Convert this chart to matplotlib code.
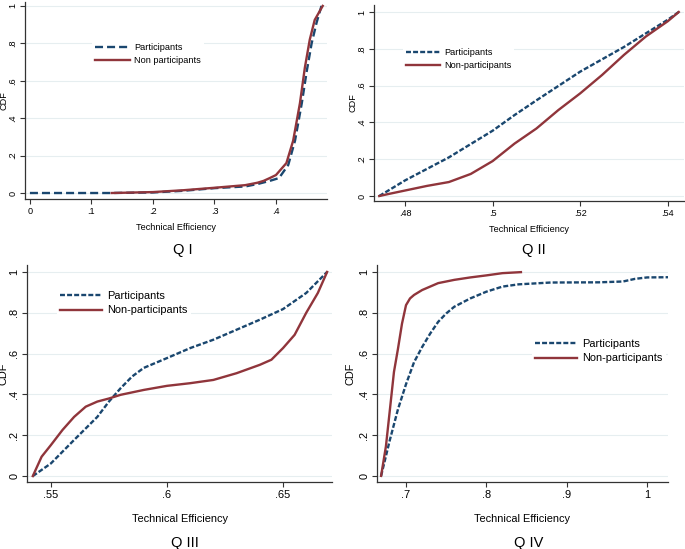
import matplotlib
matplotlib.use("Agg")
import matplotlib.pyplot as plt

plt.rcParams['font.family'] = ['Liberation Sans', 'DejaVu Sans']

W, H = 685, 549
BLUE = "#1a476f"
RED = "#90353b"
GRID = "#e6eef0"

# ---- Q I ----
q1_part_x = [0.0, 0.13, 0.20, 0.25, 0.30, 0.35, 0.37, 0.39, 0.40, 0.405, 0.42, 0.431, 0.442, 0.45, 0.458, 0.466, 0.474]
q1_part_y = [0.0, 0.0, 0.003, 0.012, 0.026, 0.035, 0.048, 0.065, 0.075, 0.08, 0.15, 0.28, 0.48, 0.65, 0.80, 0.91, 1.0]
q1_non_x = [0.133, 0.20, 0.25, 0.30, 0.35, 0.37, 0.38, 0.39, 0.40, 0.417, 0.428, 0.439, 0.447, 0.455, 0.463, 0.476]
q1_non_y = [0.0, 0.005, 0.015, 0.028, 0.042, 0.055, 0.065, 0.08, 0.096, 0.16, 0.28, 0.48, 0.67, 0.82, 0.925, 1.0]

# ---- Q II ----
q2_part_x = [0.4741, 0.48, 0.49, 0.50, 0.505, 0.51, 0.52, 0.53, 0.54, 0.5425]
q2_part_y = [0.0, 0.085, 0.21, 0.355, 0.44, 0.52, 0.676, 0.81, 0.958, 1.0]
q2_non_x = [0.4741, 0.476, 0.48, 0.485, 0.49, 0.495, 0.50, 0.505, 0.51, 0.515, 0.52, 0.525, 0.53, 0.535, 0.54, 0.5425]
q2_non_y = [0.0, 0.01, 0.03, 0.055, 0.076, 0.12, 0.19, 0.285, 0.367, 0.467, 0.558, 0.658, 0.767, 0.867, 0.95, 1.0]

# ---- Q III ----
q3_part_x = [0.5422, 0.55, 0.56, 0.57, 0.575, 0.58, 0.585, 0.59, 0.60, 0.61, 0.62, 0.63, 0.64, 0.65, 0.66, 0.669]
q3_part_y = [0.0, 0.062, 0.177, 0.29, 0.365, 0.43, 0.488, 0.53, 0.578, 0.627, 0.668, 0.717, 0.766, 0.818, 0.897, 1.0]
q3_non_x = [0.5422, 0.546, 0.55, 0.555, 0.56, 0.565, 0.57, 0.575, 0.58, 0.59, 0.60, 0.61, 0.62, 0.63, 0.64, 0.645, 0.65, 0.655, 0.66, 0.665, 0.669]
q3_non_y = [0.0, 0.095, 0.152, 0.226, 0.29, 0.34, 0.365, 0.38, 0.398, 0.422, 0.442, 0.455, 0.471, 0.504, 0.545, 0.57, 0.627, 0.692, 0.80, 0.897, 1.0]

# ---- Q IV ----
q4_part_x = [0.669, 0.68, 0.69, 0.70, 0.71, 0.72, 0.73, 0.74, 0.75, 0.76, 0.78, 0.80, 0.82, 0.84, 0.88, 0.94, 0.97, 0.985, 1.0, 1.026]
q4_part_y = [0.0, 0.178, 0.327, 0.45, 0.558, 0.632, 0.698, 0.756, 0.797, 0.83, 0.871, 0.904, 0.929, 0.94, 0.949, 0.95, 0.954, 0.967, 0.974, 0.975]
q4_non_x = [0.669, 0.675, 0.68, 0.685, 0.69, 0.695, 0.70, 0.705, 0.71, 0.72, 0.73, 0.74, 0.76, 0.78, 0.80, 0.82, 0.843]
q4_non_y = [0.0, 0.145, 0.327, 0.51, 0.624, 0.747, 0.838, 0.871, 0.888, 0.912, 0.929, 0.946, 0.962, 0.974, 0.984, 0.995, 1.0]

y_ticks = [0, 0.2, 0.4, 0.6, 0.8, 1]
y_labels = ["0", ".2", ".4", ".6", ".8", "1"]

panels = [
    dict(rect=(25, 2, 327, 199), xlim=(-0.008, 0.483), ylim=(-0.032, 1.021),
         xticks=[0, 0.1, 0.2, 0.3, 0.4], xlabels=["0", ".1", ".2", ".3", ".4"],
         part=(q1_part_x, q1_part_y), non=(q1_non_x, q1_non_y),
         names=("Participants", "Non participants"), dash=(3.4, 1.7),
         leg=(92, 54), fs=6.6, title="Q I", title_xy=(183, 250), xl_y=228, yl_x=4,
         hl=3.8),
    dict(rect=(374, 5, 684, 201), xlim=(0.4729, 0.5437), ylim=(-0.027, 1.038),
         xticks=[0.48, 0.50, 0.52, 0.54], xlabels=[".48", ".5", ".52", ".54"],
         part=(q2_part_x, q2_part_y), non=(q2_non_x, q2_non_y),
         names=("Participants", "Non-participants"), dash=(2.1, 0.9),
         leg=(403, 59), fs=6.6, title="Q II", title_xy=(534, 250), xl_y=230, yl_x=353,
         hl=3.7),
    dict(rect=(27, 265, 332, 482), xlim=(0.5397, 0.6711), ylim=(-0.029, 1.034),
         xticks=[0.55, 0.60, 0.65], xlabels=[".55", ".6", ".65"],
         part=(q3_part_x, q3_part_y), non=(q3_non_x, q3_non_y),
         names=("Participants", "Non-participants"), dash=(2.1, 0.9),
         leg=(57, 303), fs=7.9, title="Q III", title_xy=(185, 543), xl_y=519, yl_x=4,
         hl=3.8),
    dict(rect=(377, 265, 668, 482), xlim=(0.6639, 1.026), ylim=(-0.03, 1.035),
         xticks=[0.7, 0.8, 0.9, 1.0], xlabels=[".7", ".8", ".9", "1"],
         part=(q4_part_x, q4_part_y), non=(q4_non_x, q4_non_y),
         names=("Participants", "Non-participants"), dash=(2.1, 0.9),
         leg=(532, 351), fs=7.9, title="Q IV", title_xy=(529, 543), xl_y=519, yl_x=351,
         hl=3.8),
]

fig = plt.figure(figsize=(W / 100, H / 100), dpi=100)

for p in panels:
    x0, y0, x1, y1 = p["rect"]
    ax = fig.add_axes([x0 / W, 1 - y1 / H, (x1 - x0) / W, (y1 - y0) / H])
    fs = p["fs"]
    ax.set_xlim(*p["xlim"])
    ax.set_ylim(*p["ylim"])
    ax.set_yticks(y_ticks)
    ax.set_yticklabels(y_labels, rotation=90, va="center")
    ax.set_xticks(p["xticks"])
    ax.set_xticklabels(p["xlabels"])
    ax.tick_params(labelsize=fs, length=3.5, width=0.8, color="#333333", pad=2)
    ax.grid(axis="y", color=GRID, linewidth=0.8)
    ax.set_axisbelow(True)
    for s in ["top", "right"]:
        ax.spines[s].set_visible(False)
    for s in ["left", "bottom"]:
        ax.spines[s].set_linewidth(0.9)
        ax.spines[s].set_color("#333333")

    lp, = ax.plot(p["part"][0], p["part"][1], color=BLUE, lw=1.7,
                  linestyle=(0, p["dash"]), label=p["names"][0])
    ln, = ax.plot(p["non"][0], p["non"][1], color=RED, lw=1.7,
                  label=p["names"][1])

    lx, ly = p["leg"]
    bx = (lx - x0) / (x1 - x0)
    by = (y1 - ly) / (y1 - y0)
    leg = ax.legend(handles=[lp, ln], loc="center left", bbox_to_anchor=(bx, by),
                    borderaxespad=0, borderpad=0.3, fontsize=fs, frameon=True,
                    fancybox=False, edgecolor="white", facecolor="white",
                    framealpha=1, handlelength=p["hl"], handletextpad=0.5,
                    labelspacing=0.45)
    leg.get_frame().set_linewidth(0)

    cx = (x0 + x1) / 2
    fig.text(cx / W, 1 - p["xl_y"] / H, "Technical Efficiency", ha="center",
             va="center", fontsize=fs)
    fig.text(p["yl_x"] / W, 1 - ((y0 + y1) / 2) / H, "CDF", rotation=90,
             ha="center", va="center", fontsize=fs)
    tx, ty = p["title_xy"]
    fig.text(tx / W, 1 - ty / H, p["title"], ha="center", va="center", fontsize=10.5)

fig.savefig("out.png", dpi=100, facecolor="white")
